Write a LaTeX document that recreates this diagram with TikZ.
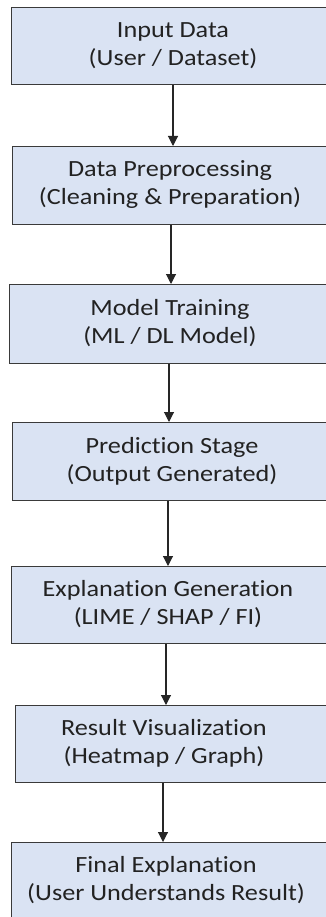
\documentclass[tikz,border=0pt]{standalone}
\usepackage{fontspec}
\setmainfont{Carlito}[FakeStretch=1.13,Ligatures=NoCommon]
\usetikzlibrary{arrows.meta}

\definecolor{boxfill}{HTML}{DAE3F3}
\definecolor{boxline}{HTML}{3A3A3A}
\definecolor{ink}{HTML}{222222}

\begin{document}
\begin{tikzpicture}[x=1pt,y=-1pt,
  stage/.style={draw=boxline,fill=boxfill,line width=1.4pt,anchor=north west,
    minimum width=340pt,inner sep=0pt},
  caption/.style={align=center,text=ink,font=\fontsize{23.2}{28}\selectfont},
  flow/.style={draw=black!85,line width=1.1pt,-{Triangle[width=10pt,length=10pt]}}]

\useasboundingbox (0,0) rectangle (326,917);
\clip (0,0) rectangle (326,917);

% boxes
\node[stage,minimum height=77pt] (input) at (11,7) {};
\node[caption] (input-txt) at (173,45.5) {Input Data\\(User / Dataset)};

\node[stage,minimum height=78pt] (prep) at (12,146) {};
\node[caption] (prep-txt) at (170,185) {Data Preprocessing\\(Cleaning \& Preparation)};

\node[stage,minimum height=79pt] (train) at (9,284) {};
\node[caption] (train-txt) at (170,323.5) {Model Training\\(ML / DL Model)};

\node[stage,minimum height=78pt] (pred) at (12,422) {};
\node[caption] (pred-txt) at (172,461) {Prediction Stage\\(Output Generated)};

\node[stage,minimum height=77pt] (expl) at (11,566) {};
\node[caption] (expl-txt) at (168,604.5) {Explanation Generation\\(LIME / SHAP / FI)};

\node[stage,minimum height=77pt] (vis) at (15,705) {};
\node[caption] (vis-txt) at (164,743.5) {Result Visualization\\(Heatmap / Graph)};

\node[stage,minimum height=100pt] (final) at (11,842) {};
\node[caption] (final-txt) at (166,880.5) {Final Explanation\\(User Understands Result)};

% arrows
\coordinate (a1) at (173,0);
\coordinate (a2) at (171,0);
\coordinate (a3) at (169,0);
\coordinate (a4) at (168,0);
\coordinate (a5) at (166,0);
\coordinate (a6) at (163,0);

\draw[flow] (input.south -| a1) -- (prep.north -| a1);
\draw[flow] (prep.south -| a2) -- (train.north -| a2);
\draw[flow] (train.south -| a3) -- (pred.north -| a3);
\draw[flow] (pred.south -| a4) -- (expl.north -| a4);
\draw[flow] (expl.south -| a5) -- (vis.north -| a5);
\draw[flow] (vis.south -| a6) -- (final.north -| a6);

\end{tikzpicture}
\end{document}
